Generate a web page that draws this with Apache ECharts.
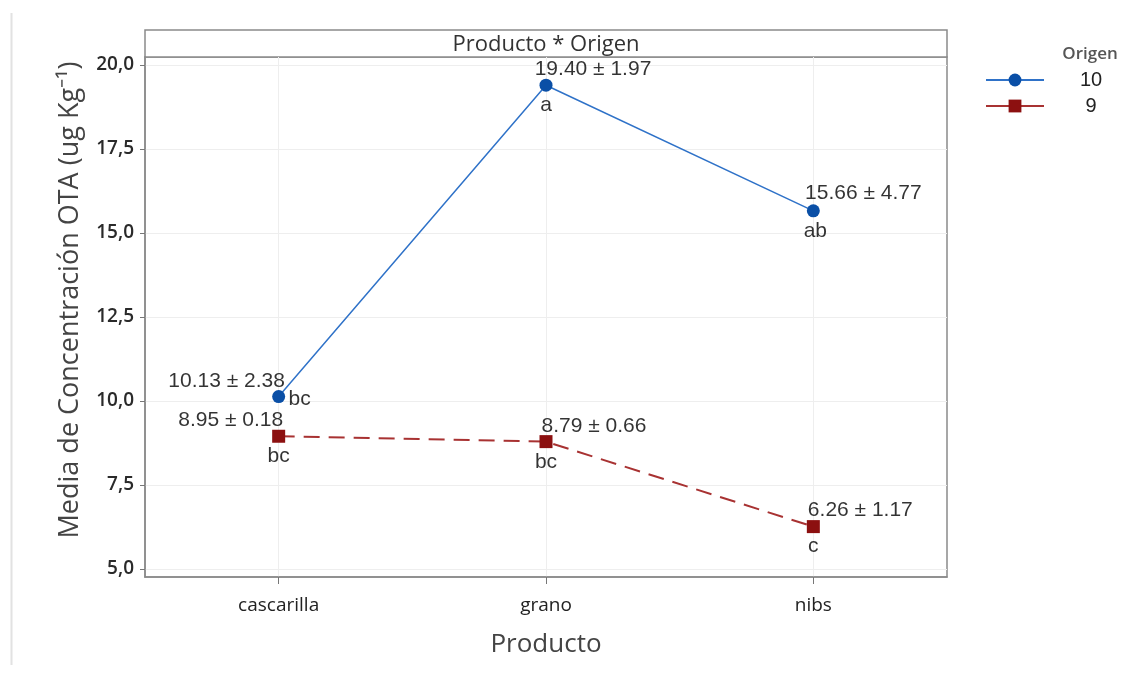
<!DOCTYPE html>
<html>
<head>
<meta charset="utf-8">
<script src="https://cdn.jsdelivr.net/npm/echarts@6/dist/echarts.min.js"></script>
<style>
  html, body { margin: 0; padding: 0; background: #fff; }
  #chart { width: 1148px; height: 677px; }
</style>
</head>
<body>
<div id="chart"></div>
<script>
// Mean OTA concentration by product and origin (mean ± SD, Tukey groups)
const categories = ['cascarilla', 'grano', 'nibs'];
const origen10Mean = [10.13, 19.40, 15.66];
const origen10SD = [2.38, 1.97, 4.77];
const origen10Group = ['bc', 'a', 'ab'];
const origen9Mean = [8.95, 8.79, 6.26];
const origen9SD = [0.18, 0.66, 1.17];
const origen9Group = ['bc', 'bc', 'c'];
const yTicks = [5, 7.5, 10, 12.5, 15, 17.5, 20];
const yRange = [4.76, 20.24];

// label placement around each point (pixels)
const valueOffset10 = [[-52, -15], [47, -16], [50, -18]];
const groupOffset10 = [[21, 3], [0, 20], [2, 20]];
const valueOffset9 = [[-48, -16], [48, -15], [47, -16]];
const groupOffset9 = [[0, 20], [0, 21], [0, 20]];

const BLUE_LINE = '#2f72c8';
const BLUE_MARK = '#0a4fa6';
const RED_LINE = '#a83232';
const RED_MARK = '#8c1010';
const FRAME = '#8a8a8a';
const labelFont = { fontFamily: 'Liberation Sans, Arial, sans-serif', fontSize: 21, color: '#000' };

const grid = { left: 145, right: 201, top: 57, bottom: 100 };

function valueData(means, sds, offsets) {
  return means.map((m, i) => ({
    value: [i, m],
    label: { offset: offsets[i], formatter: m.toFixed(2) + ' ± ' + sds[i].toFixed(2) }
  }));
}
function groupData(means, groups, offsets) {
  return means.map((m, i) => ({
    value: [i, m],
    label: { offset: offsets[i], formatter: groups[i] }
  }));
}

const chart = echarts.init(document.getElementById('chart'), null, { renderer: 'canvas' });

chart.setOption({
  animation: false,
  backgroundColor: '#ffffff',
  grid: Object.assign({ show: true, borderColor: FRAME, borderWidth: 1.5, backgroundColor: '#fff' }, grid),
  title: {
    text: 'Origen',
    left: 1085,
    top: 41,
    textAlign: 'center',
    textStyle: { fontFamily: 'Open Sans, sans-serif', fontSize: 17, fontWeight: 600, color: '#555' }
  },
  legend: {
    orient: 'vertical',
    left: 980,
    top: 65,
    itemWidth: 58,
    itemHeight: 16,
    itemGap: 6,
    data: ['10', '9'],
    lineStyle: { type: 'solid' },
    formatter: name => '{c|' + name + '}',
    textStyle: {
      rich: { c: { width: 84, align: 'center', fontFamily: 'Liberation Sans, Arial, sans-serif', fontSize: 20, color: '#222' } }
    }
  },
  xAxis: {
    type: 'value',
    min: -0.5,
    max: 2.5,
    name: 'Producto',
    nameLocation: 'middle',
    nameGap: 55,
    nameTextStyle: { fontFamily: 'Open Sans, sans-serif', fontSize: 26, color: '#444' },
    axisLine: { show: true, onZero: false, lineStyle: { color: FRAME, width: 1.5 } },
    axisTick: { show: true, customValues: [0, 1, 2], length: 7, lineStyle: { color: '#777' } },
    axisLabel: {
      customValues: [0, 1, 2],
      formatter: v => categories[Math.round(v)],
      margin: 19,
      fontFamily: 'Open Sans, sans-serif',
      fontSize: 19,
      color: '#222'
    },
    splitLine: { show: true, lineStyle: { color: '#eeeeee', width: 1 } }
  },
  yAxis: {
    type: 'value',
    min: yRange[0],
    max: yRange[1],
    name: 'Media de Concentración OTA (ug Kg⁻¹)',
    nameLocation: 'middle',
    nameGap: 61,
    nameTextStyle: { fontFamily: 'Open Sans, sans-serif', fontSize: 27, color: '#444', padding: [0, 0, 0, 34] },
    axisLine: { show: true, onZero: false, lineStyle: { color: FRAME, width: 1.5 } },
    axisTick: { show: true, customValues: yTicks, length: 5, lineStyle: { color: '#777' } },
    axisLabel: {
      customValues: yTicks,
      formatter: v => v.toFixed(1).replace('.', ','),
      margin: 11,
      fontFamily: 'Open Sans, sans-serif',
      fontSize: 19,
      fontWeight: 600,
      color: '#2a2a2a'
    },
    splitLine: { show: true, lineStyle: { color: '#eeeeee', width: 1 } }
  },
  graphic: [
    {
      type: 'line',
      shape: { x1: 11.5, y1: 13, x2: 11.5, y2: 665 },
      style: { stroke: '#e2e2e2', lineWidth: 2 }
    },
    {
      type: 'rect',
      shape: { x: grid.left, y: 30, width: 1148 - grid.left - grid.right, height: grid.top - 30 },
      style: { fill: '#fff', stroke: FRAME, lineWidth: 1.5 }
    },
    {
      type: 'text',
      x: grid.left + (1148 - grid.left - grid.right) / 2,
      y: 45,
      style: {
        text: 'Producto * Origen',
        align: 'center',
        verticalAlign: 'middle',
        fontFamily: 'Open Sans, sans-serif',
        fontSize: 22,
        fill: '#333'
      }
    }
  ],
  series: [
    {
      name: '10',
      type: 'line',
      data: origen10Mean.map((m, i) => [i, m]),
      symbol: 'circle',
      symbolSize: 13,
      itemStyle: { color: BLUE_MARK },
      lineStyle: { color: BLUE_LINE, width: 1.5 },
      z: 3
    },
    {
      name: '9',
      type: 'line',
      data: origen9Mean.map((m, i) => [i, m]),
      symbol: 'rect',
      symbolSize: 13,
      itemStyle: { color: RED_MARK },
      lineStyle: { color: RED_LINE, width: 2, type: [16, 9] },
      z: 3
    },
    {
      name: 'valores10',
      type: 'scatter',
      data: valueData(origen10Mean, origen10SD, valueOffset10),
      symbolSize: 1,
      itemStyle: { color: 'rgba(0,0,0,0)' },
      label: Object.assign({ show: true, position: 'inside' }, labelFont),
      silent: true, z: 5
    },
    {
      name: 'grupos10',
      type: 'scatter',
      data: groupData(origen10Mean, origen10Group, groupOffset10),
      symbolSize: 1,
      itemStyle: { color: 'rgba(0,0,0,0)' },
      label: Object.assign({ show: true, position: 'inside' }, labelFont),
      silent: true, z: 5
    },
    {
      name: 'valores9',
      type: 'scatter',
      data: valueData(origen9Mean, origen9SD, valueOffset9),
      symbolSize: 1,
      itemStyle: { color: 'rgba(0,0,0,0)' },
      label: Object.assign({ show: true, position: 'inside' }, labelFont),
      silent: true, z: 5
    },
    {
      name: 'grupos9',
      type: 'scatter',
      data: groupData(origen9Mean, origen9Group, groupOffset9),
      symbolSize: 1,
      itemStyle: { color: 'rgba(0,0,0,0)' },
      label: Object.assign({ show: true, position: 'inside' }, labelFont),
      silent: true, z: 5
    }
  ]
});
</script>
</body>
</html>
